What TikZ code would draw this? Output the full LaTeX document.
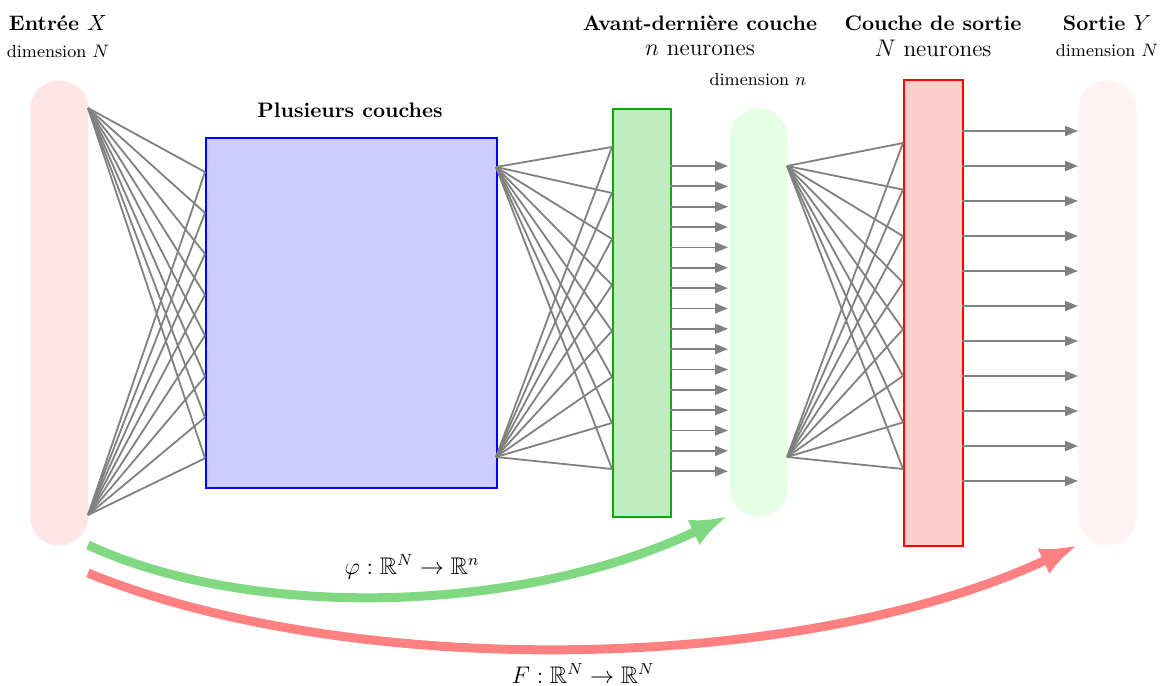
\documentclass[tikz,border=0pt]{standalone}
\usepackage{amssymb}
\usetikzlibrary{arrows.meta}
\definecolor{gfill}{RGB}{192,236,192}
\definecolor{gdraw}{RGB}{0,176,0}
\definecolor{garrow}{RGB}{128,216,128}
\definecolor{rarrow}{RGB}{255,128,128}
\begin{document}
\begin{tikzpicture}[x=0.5pt,y=-0.5pt,
  pill/.style={anchor=north west, inner sep=0pt, minimum width=29pt, rounded corners=14.5pt},
  layer/.style={anchor=north west, inner sep=0pt, draw, line width=1pt},
  conn/.style={draw=gray, line width=0.9pt},
  arr/.style={conn, -{Triangle[length=6.5pt,width=5pt]}},
  bigarr/.style={line width=4.5pt, -{Latex[length=19pt,width=14pt]}},
  title/.style={anchor=base, inner sep=0pt, font=\fontsize{10.5}{12}\selectfont\bfseries},
  sub/.style={anchor=base, inner sep=0pt, font=\fontsize{11.7}{14}\selectfont},
  dim/.style={anchor=base, inner sep=0pt, font=\fontsize{8.8}{10}\selectfont},
  maplab/.style={anchor=base, inner sep=0pt, font=\fontsize{12}{14}\selectfont}]
\useasboundingbox (0,0) rectangle (1164,686);

% shapes
\node[pill, fill=red!10, minimum height=232.5pt] (X) at (30,80) {};
\node[layer, draw=blue, fill=blue!20, minimum width=145.5pt, minimum height=175pt] (hid) at (205,137) {};
\node[layer, draw=gdraw, fill=gfill, minimum width=29pt, minimum height=204pt] (pen) at (612,108) {};
\node[pill, fill=green!10, minimum height=204pt] (phi) at (729,108) {};
\node[layer, draw=red, fill=red!20, minimum width=29.5pt, minimum height=233pt] (out) at (903,79) {};
\node[pill, fill=red!5, minimum height=232.5pt] (Y) at (1078,80) {};

% connection points
\coordinate (in1) at (88,108);
\coordinate (in2) at (88,515);
\coordinate (br1) at (496,167);
\coordinate (br2) at (496,457);
\coordinate (gp1) at (787,166);
\coordinate (gp2) at (787,457);
\foreach \i in {1,...,8}{
  \coordinate (bl\i) at (205,{172+40.9*(\i-1)});
  \coordinate (gl\i) at (612,{147+46*(\i-1)});
  \coordinate (rl\i) at (903,{143+46.57*(\i-1)});
}
\foreach \i in {1,...,16}{
  \coordinate (ga\i) at (670,{166+20.35*(\i-1)});
  \coordinate (gb\i) at (728,{166+20.35*(\i-1)});
}
\foreach \i in {1,...,11}{
  \coordinate (ra\i) at (962,{131+35*(\i-1)});
  \coordinate (rb\i) at (1078,{131+35*(\i-1)});
}

% connectors
\foreach \i in {1,...,8}{
  \draw[conn] (in1) -- (bl\i);
  \draw[conn] (in2) -- (bl\i);
  \draw[conn] (br1) -- (gl\i);
  \draw[conn] (br2) -- (gl\i);
  \draw[conn] (gp1) -- (rl\i);
  \draw[conn] (gp2) -- (rl\i);
}
\foreach \i in {1,...,16}{ \draw[arr] (ga\i) -- (gb\i); }
\foreach \i in {1,...,11}{ \draw[arr] (ra\i) -- (rb\i); }

% big maps
\coordinate (gs) at (88,545);
\coordinate (ge) at (728,516);
\coordinate (rs) at (88,573);
\coordinate (re) at (1078,545);
\draw[bigarr, garrow] (gs) .. controls (250,620) and (520,615) .. (ge);
\draw[bigarr, rarrow] (rs) .. controls (350,680) and (800,675) .. (re);

% labels
\node[title] (tX) at (58,30) {Entrée $X$};
\node[dim] (dX) at (58,57) {dimension $N$};
\node[title] (tH) at (350,117) {Plusieurs couches};
\node[title] (tP) at (700,30) {Avant-dernière couche};
\node[sub] (nP) at (700,55) {$n$ neurones};
\node[dim] (dP) at (758,85) {dimension $n$};
\node[title] (tO) at (933,30) {Couche de sortie};
\node[sub] (nO) at (933,56) {$N$ neurones};
\node[title] (tY) at (1107,30) {Sortie $Y$};
\node[dim] (dY) at (1107,56) {dimension $N$};
\node[maplab] (lphi) at (412,574) {$\varphi : \mathbb{R}^N \to \mathbb{R}^n$};
\node[maplab] (lF) at (583,683) {$F : \mathbb{R}^N \to \mathbb{R}^N$};
\end{tikzpicture}
\end{document}
